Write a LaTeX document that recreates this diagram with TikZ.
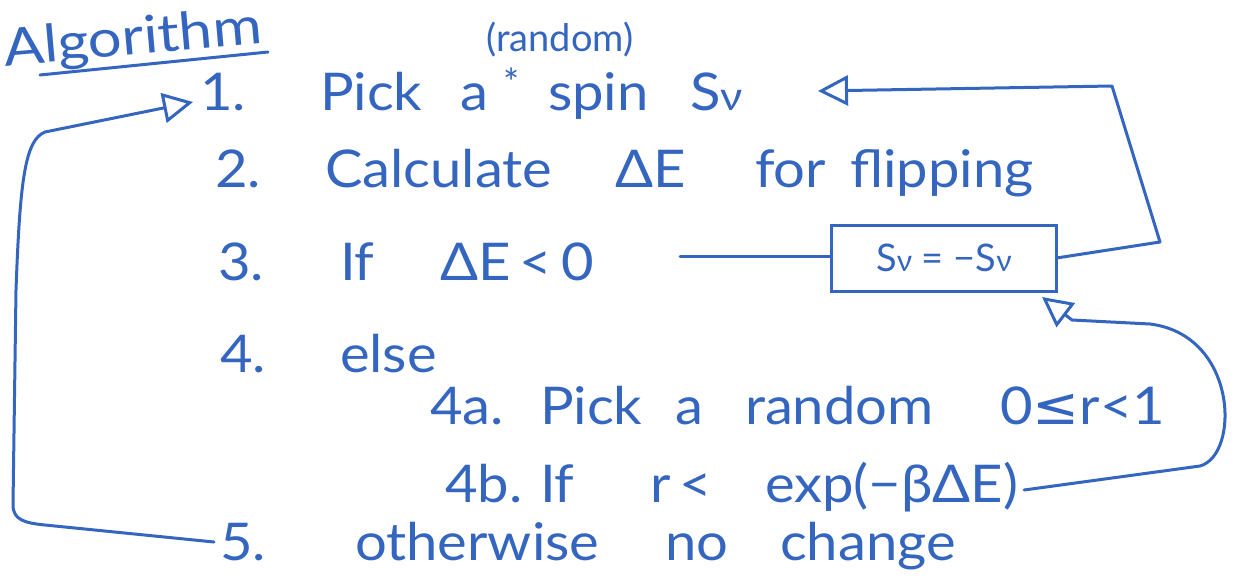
\documentclass[tikz,border=0pt]{standalone}
\usepackage{fontspec}
\setmainfont{Lato}
\newfontfamily\sym{DejaVu Sans}
\usetikzlibrary{arrows.meta}
\definecolor{ink}{RGB}{52,102,192}
\begin{document}
\begin{tikzpicture}[x=1pt,y=-1pt,
  every node/.style={text=ink, inner sep=0pt, outer sep=0pt},
  txt/.style={anchor=base west, font=\fontsize{52}{56}\selectfont, xscale=1.08},
  small/.style={anchor=base west, font=\fontsize{38}{42}\selectfont},
  big/.style={anchor=base west, font=\fontsize{52}{56}\selectfont},
  pen/.style={draw=ink, line width=3pt, line cap=round, line join=round},
  arr/.style={pen, -{Triangle[open, length=30pt, width=30pt]}},
  flipbox/.style={draw=ink, line width=3pt, minimum width=225pt, minimum height=66pt, font=\fontsize{38}{42}\selectfont}]
\useasboundingbox (0,0) rectangle (1240,579);
% title
\node[big, rotate=5] (alg) at (5,66) {\scalebox{1.15}[1]{Algorithm}};
\draw[pen] (40,75) -- (268,52);
\node[small, anchor=center] (rnd) at (560,40) {(random)};
% line 1
\node[txt] (one) at (200,110) {1.};
\node[txt] (pick1) at (320,110) {Pick};
\node[txt] (a1) at (460,110) {a};
\node[small] (star) at (503,96) {*};
\node[txt] (spin) at (548,110) {spin};
\node[txt] (sv1) at (690,110) {S{\fontsize{40}{42}\selectfont ν}};
% line 2
\node[txt] (two) at (215,187) {2.};
\node[txt] (calc) at (325,187) {Calculate};
\node[txt] (de2) at (615,187) {ΔE};
\node[txt] (for) at (755,187) {for};
\node[txt] (flip) at (850,187) {flipping};
% line 3
\node[txt] (three) at (218,280) {3.};
\node[txt] (if3) at (340,280) {If};
\node[txt] (de3) at (440,280) {ΔE\,<\,0};
% line 4
\node[txt] (four) at (220,372) {4.};
\node[txt] (else) at (340,372) {else};
% 4a
\node[txt] (fa) at (430,424) {4a.};
\node[txt] (pick4) at (540,424) {Pick};
\node[txt] (a4) at (675,424) {a};
\node[txt] (random) at (745,424) {random};
\node[txt] (range) at (1000,424) {0{\sym ≤}r<1};
% 4b
\node[txt] (fb) at (445,502) {4b.};
\node[txt] (if4) at (540,502) {If};
\node[txt] (rl) at (650,502) {r\,<};
\node[txt] (expo) at (765,502) {exp(−βΔE)};
% 5
\node[txt] (five) at (220,560) {5.};
\node[txt] (other) at (355,560) {otherwise};
\node[txt] (no) at (665,560) {no};
\node[txt] (change) at (780,560) {change};
% box
\node[flipbox] (box) at (944,258) {S{\fontsize{30}{32}\selectfont ν} = −S{\fontsize{30}{32}\selectfont ν}};
% connectors
\coordinate (c3) at (680,256);
\draw[pen] (c3) -- (box.west |- c3);
\coordinate (tip1) at (818,91);
\draw[arr] (box.east) -- (1160,242) -- (1112,86) -- (tip1);
\coordinate (tip2) at (1042,297);
\draw[arr] ([xshift=6pt]expo.east |- 0,490) -- (1200,466) .. controls (1240,455) and (1238,335) .. (1150,324) -- (1072,320) -- (tip2);
\coordinate (tip3) at (193,102);
\draw[arr] ([xshift=-6pt]five.west |- 0,542) -- (45,525) .. controls (25,523) and (13,520) .. (13,505) -- (16,290) .. controls (20,180) and (25,140) .. (45,132) -- (tip3);
\end{tikzpicture}
\end{document}
